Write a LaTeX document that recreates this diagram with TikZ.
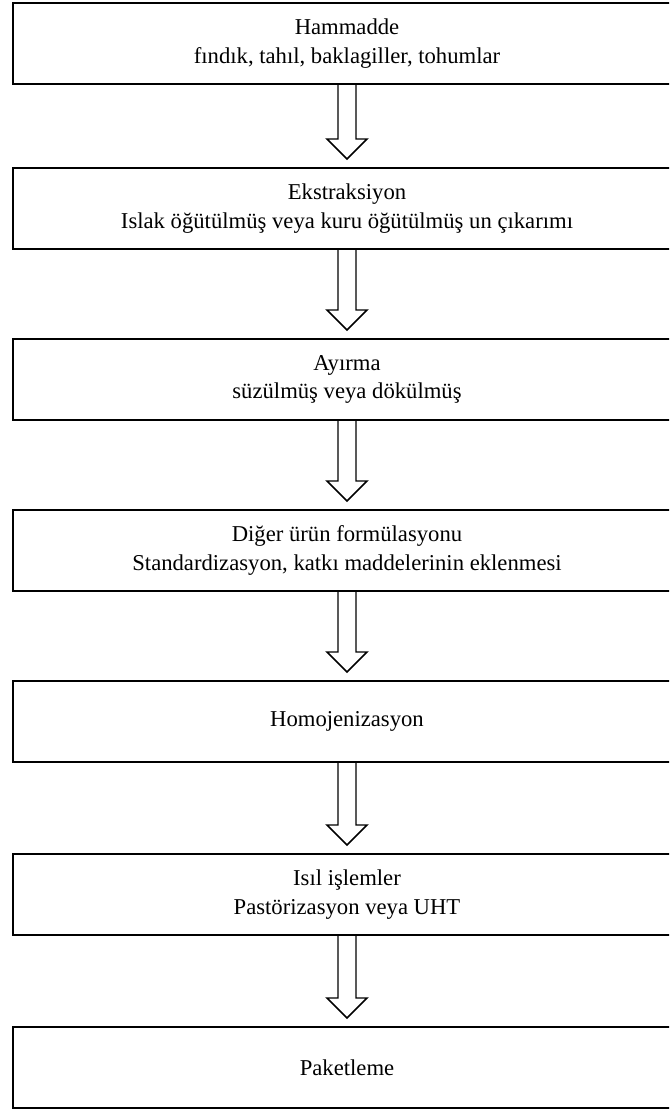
\documentclass[tikz,border=0pt]{standalone}
\usepackage{fontspec}
\setmainfont{Liberation Serif}
\usetikzlibrary{positioning}
\usetikzlibrary{calc}
\tikzset{
  % Common styles for the flow chart
  block/.style={draw, rectangle, line width=1.3pt, minimum width=501pt, minimum height=60.75pt,
    align=center, inner sep=0pt, outer sep=0pt, font=\fontsize{17}{21.5}\selectfont},
  hollow/.style={draw, line width=1.1pt, line join=miter}
}
% hollow block arrow from the bottom of #1 to just above #2
\newcommand{\flowarrow}[2]{%
  \draw[hollow] ($(#1.south)+(-9,0)$) -- ($(#2.north)+(-9,29)$) -- ($(#2.north)+(-20,29)$)
    -- ($(#2.north)+(0,9)$) -- ($(#2.north)+(20,29)$) -- ($(#2.north)+(9,29)$) -- ($(#1.south)+(9,0)$);}

\begin{document}
\begin{tikzpicture}[x=0.75pt, y=0.75pt]
    \useasboundingbox (0,0) rectangle (669,-1110);
    \clip (0,0) rectangle (669,-1110);

    % Place nodes
    \node [block] (hammadde) at (347,-43.5) {Hammadde\\fındık, tahıl, baklagiller, tohumlar};
    \node [block, below=63pt of hammadde] (ekstraksiyon) {Ekstraksiyon\\Islak öğütülmüş veya kuru öğütülmüş un çıkarımı};
    \node [block, below=67.5pt of ekstraksiyon] (ayirma) {Ayırma\\süzülmüş veya dökülmüş};
    \node [block, below=67.5pt of ayirma] (formulasyon) {Diğer ürün formülasyonu\\Standardizasyon, katkı maddelerinin eklenmesi};
    \node [block, below=67.5pt of formulasyon] (homojen) {Homojenizasyon};
    \node [block, below=69pt of homojen] (isil) {Isıl işlemler\\Pastörizasyon veya UHT};
    \node [block, below=69pt of isil] (paket) {Paketleme};

    % Draw arrows
    \flowarrow{hammadde}{ekstraksiyon}
    \flowarrow{ekstraksiyon}{ayirma}
    \flowarrow{ayirma}{formulasyon}
    \flowarrow{formulasyon}{homojen}
    \flowarrow{homojen}{isil}
    \flowarrow{isil}{paket}

\end{tikzpicture}
\end{document}
